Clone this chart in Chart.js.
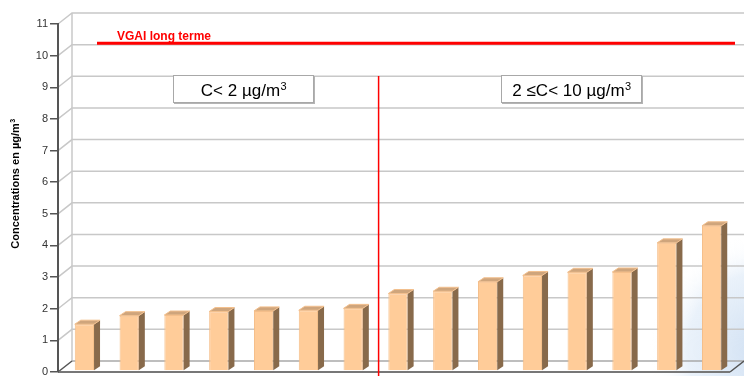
<!DOCTYPE html>
<html>
<head>
<meta charset="utf-8">
<script src="https://cdn.jsdelivr.net/npm/chart.js@4/dist/chart.umd.min.js"></script>
<style>
  html, body { margin: 0; padding: 0; background: #ffffff; }
  #wrap { width: 744px; height: 376px; }
</style>
</head>
<body>
<div id="wrap"><canvas id="c" width="744" height="376"></canvas></div>
<script>
// Sampling sites, sorted by measured concentration
const sites = ['S1', 'S2', 'S3', 'S4', 'S5', 'S6', 'S7', 'S8', 'S9', 'S10', 'S11', 'S12', 'S13', 'S14', 'S15'];
// Concentrations (µg/m³)
const concentrations = [1.48, 1.75, 1.77, 1.88, 1.90, 1.92, 1.98, 2.45, 2.52, 2.82, 3.02, 3.12, 3.13, 4.05, 4.59];
// Long-term indoor air guideline value (µg/m³)
const vgai = 10;
const vgaiLabel = 'VGAI long terme';
// Class labels (the exponent is drawn raised) and the index of the last site of the first class
const classLabels = [['C< 2 µg/m', '3'], ['2 ≤C< 10 µg/m', '3']];
const classSplitIndex = 6;
// Y axis
const yMin = 0, yMax = 11, yStep = 1;
const yTitle = ['Concentrations en µg/m', '3'];

// 3D look
const DEPTH_X = 14, DEPTH_Y = 11;       // back wall offset
const BAR_SHIFT_X = 4, BAR_SHIFT_Y = -1; // bars sit slightly inside the box
const FACE_X = 6, FACE_Y = 4;           // bar thickness
const FONT = '"Liberation Sans", Arial, sans-serif';

// text with a raised exponent, centred on (cx, cy)
function drawSup(ctx, parts, cx, cy, size, weight) {
  const big = `${weight} ${size}px ${FONT}`;
  const small = `${weight} ${Math.round(size * 0.62)}px ${FONT}`;
  ctx.font = big;
  const w1 = ctx.measureText(parts[0]).width;
  ctx.font = small;
  const w2 = ctx.measureText(parts[1]).width;
  const x0 = cx - (w1 + w2) / 2;
  const base = cy + size * 0.36;
  ctx.textAlign = 'left';
  ctx.textBaseline = 'alphabetic';
  ctx.font = big;
  ctx.fillText(parts[0], x0, base);
  ctx.font = small;
  ctx.fillText(parts[1], x0 + w1 + 0.5, base - size * 0.38);
}

const box3d = {
  id: 'box3d',
  beforeDraw(chart) {
    const ctx = chart.ctx, a = chart.chartArea, y = chart.scales.y;
    ctx.save();
    // faint background mark, bottom right
    const g = ctx.createRadialGradient(765, 350, 10, 765, 350, 115);
    g.addColorStop(0, 'rgba(205,222,242,0.9)');
    g.addColorStop(0.65, 'rgba(220,233,247,0.6)');
    g.addColorStop(1, 'rgba(255,255,255,0)');
    ctx.fillStyle = g;
    ctx.fillRect(640, 220, 104, 156);

    // back wall grid lines and left wall diagonals
    ctx.strokeStyle = '#c8c8c8';
    ctx.lineWidth = 1.5;
    for (let v = yMin + yStep; v <= yMax; v += yStep) {
      const py = y.getPixelForValue(v);
      ctx.beginPath();
      ctx.moveTo(a.left, py);
      ctx.lineTo(a.left + DEPTH_X, py - DEPTH_Y);
      ctx.lineTo(a.right + DEPTH_X, py - DEPTH_Y);
      ctx.stroke();
    }
    // back wall left edge
    ctx.beginPath();
    ctx.moveTo(a.left + DEPTH_X, a.top - DEPTH_Y);
    ctx.lineTo(a.left + DEPTH_X, a.bottom - DEPTH_Y);
    ctx.stroke();
    // floor: back edge
    ctx.strokeStyle = '#a8a8a8';
    ctx.beginPath();
    ctx.moveTo(a.left + DEPTH_X, a.bottom - DEPTH_Y);
    ctx.lineTo(a.right + DEPTH_X, a.bottom - DEPTH_Y);
    ctx.stroke();
    // floor: front and side edges
    ctx.strokeStyle = '#555555';
    ctx.lineWidth = 1.5;
    ctx.beginPath();
    ctx.moveTo(a.left, a.bottom);
    ctx.lineTo(a.left + DEPTH_X, a.bottom - DEPTH_Y);
    ctx.moveTo(a.right, a.bottom);
    ctx.lineTo(a.right + DEPTH_X, a.bottom - DEPTH_Y);
    ctx.stroke();
    ctx.strokeStyle = '#777777';
    ctx.lineWidth = 2;
    ctx.beginPath();
    ctx.moveTo(a.left, a.bottom);
    ctx.lineTo(a.right, a.bottom);
    ctx.stroke();
    ctx.restore();
  },
  beforeDatasetsDraw(chart) {
    chart.ctx.save();
    chart.ctx.translate(BAR_SHIFT_X, BAR_SHIFT_Y);
  },
  afterDatasetsDraw(chart) {
    const ctx = chart.ctx;
    const meta = chart.getDatasetMeta(0);
    meta.data.forEach(bar => {
      const p = bar.getProps(['x', 'y', 'base', 'width'], true);
      const l = p.x - p.width / 2, r = p.x + p.width / 2;
      // side face
      ctx.fillStyle = '#886a4b';
      ctx.beginPath();
      ctx.moveTo(r, p.y);
      ctx.lineTo(r + FACE_X, p.y - FACE_Y);
      ctx.lineTo(r + FACE_X, p.base - FACE_Y);
      ctx.lineTo(r, p.base);
      ctx.closePath();
      ctx.fill();
      // top face
      ctx.fillStyle = '#cfa57c';
      ctx.strokeStyle = '#f3c08e';
      ctx.lineWidth = 1;
      ctx.beginPath();
      ctx.moveTo(l, p.y);
      ctx.lineTo(l + FACE_X, p.y - FACE_Y);
      ctx.lineTo(r + FACE_X, p.y - FACE_Y);
      ctx.lineTo(r, p.y);
      ctx.closePath();
      ctx.fill();
      ctx.stroke();
    });
    ctx.restore();
  },
  afterDraw(chart) {
    const ctx = chart.ctx, a = chart.chartArea, x = chart.scales.x, y = chart.scales.y;
    ctx.save();
    // guideline value, drawn on the back wall
    const gy = y.getPixelForValue(vgai) - DEPTH_Y - 1.5;
    ctx.strokeStyle = '#ff0000';
    ctx.lineWidth = 3;
    ctx.beginPath();
    ctx.moveTo(a.left + 39, gy);
    ctx.lineTo(a.right + 5, gy);
    ctx.stroke();
    ctx.fillStyle = '#ff0000';
    ctx.font = `bold 12px ${FONT}`;
    ctx.textAlign = 'left';
    ctx.textBaseline = 'alphabetic';
    ctx.fillText(vgaiLabel, a.left + 59, gy - 3);

    // separation between the two classes
    const sx = (x.getPixelForValue(classSplitIndex) + x.getPixelForValue(classSplitIndex + 1)) / 2 + 7;
    ctx.lineWidth = 1.5;
    ctx.beginPath();
    ctx.moveTo(sx, 76);
    ctx.lineTo(sx, chart.height);
    ctx.stroke();

    // class boxes
    const boxes = [
      { x0: 173, x1: 314, text: classLabels[0] },
      { x0: 501, x1: 642, text: classLabels[1] }
    ];
    const by0 = 75, by1 = 103;
    boxes.forEach(b => {
      ctx.fillStyle = '#b4b4b4';
      ctx.fillRect(b.x0 + 1, by0 + 1, b.x1 - b.x0, by1 - by0);
      ctx.fillStyle = '#ffffff';
      ctx.fillRect(b.x0, by0, b.x1 - b.x0, by1 - by0);
      ctx.strokeStyle = '#a8a8a8';
      ctx.lineWidth = 1;
      ctx.strokeRect(b.x0 + 0.5, by0 + 0.5, b.x1 - b.x0 - 1, by1 - by0 - 1);
      ctx.fillStyle = '#000000';
      drawSup(ctx, b.text, (b.x0 + b.x1) / 2, (by0 + by1) / 2 + 1, 17, 'normal');
    });

    // y axis title
    ctx.translate(15, 184);
    ctx.rotate(-Math.PI / 2);
    ctx.fillStyle = '#000000';
    drawSup(ctx, yTitle, 0, 0, 11, 'bold');
    ctx.restore();
  }
};

new Chart(document.getElementById('c'), {
  type: 'bar',
  data: {
    labels: sites,
    datasets: [{
      data: concentrations,
      backgroundColor: '#ffcc99',
      borderColor: '#f5bd87',
      borderWidth: 1,
      barPercentage: 0.43,
      categoryPercentage: 1
    }]
  },
  options: {
    responsive: false,
    animation: false,
    devicePixelRatio: 1,
    layout: { padding: { top: 24, right: 14, bottom: 4, left: 0 } },
    plugins: { legend: { display: false }, tooltip: { enabled: false } },
    scales: {
      x: { display: false, offset: true },
      y: {
        min: yMin,
        max: yMax,
        afterFit(scale) {
          scale.width = 58;
          scale.paddingTop = 0;
          scale.paddingBottom = 0;
        },
        ticks: {
          stepSize: yStep,
          color: '#333333',
          padding: 2,
          font: { family: FONT, size: 11 }
        },
        grid: { drawOnChartArea: false, drawTicks: true, tickLength: 8, color: '#555555', lineWidth: 1.5 },
        border: { display: true, color: '#555555', width: 2 }
      }
    }
  },
  plugins: [box3d]
});
</script>
</body>
</html>
